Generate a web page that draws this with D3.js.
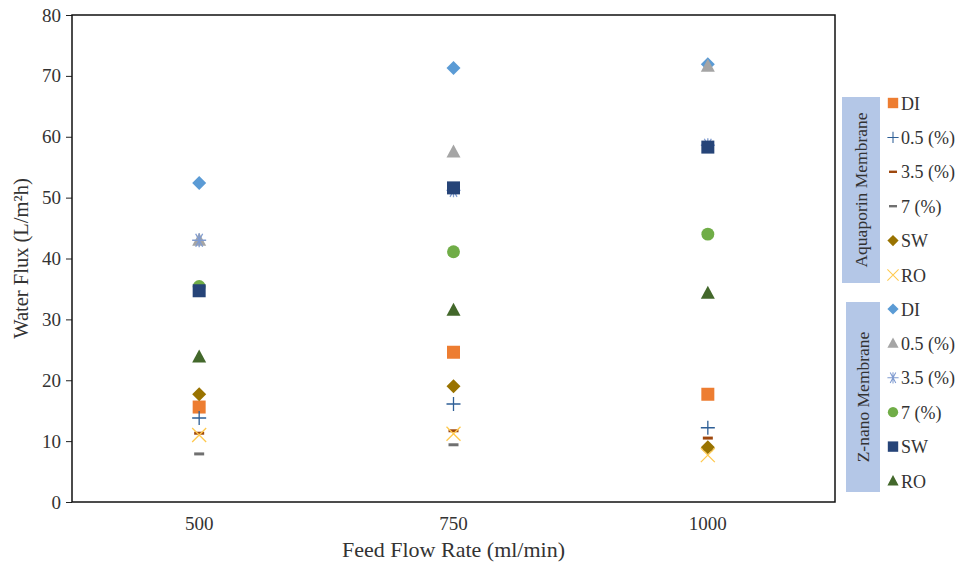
<!DOCTYPE html>
<html>
<head>
<meta charset="utf-8">
<script src="https://cdn.jsdelivr.net/npm/d3@7"></script>
<style>
body { margin: 0; background: #fff; }
text { font-family: "Liberation Serif", "Times New Roman", serif; fill: #333; }
</style>
</head>
<body>
<svg id="chart" width="962" height="568"></svg>
<script>
var flowRates = ["500", "750", "1000"];
var yTicks = [0, 10, 20, 30, 40, 50, 60, 70, 80];

// Aquaporin membrane series
var aqDI = [15.6, 24.6, 17.7];
var aq05 = [13.8, 16.1, 12.2];
var aq35 = [11.3, 11.7, 10.5];
var aq7 = [7.9, 9.4, 8.6];
var aqSW = [17.7, 19.0, 9.0];
var aqRO = [11.0, 11.2, 7.7];

// Z-nano membrane series
var znDI = [52.4, 71.3, 71.9];
var zn05 = [43.0, 57.5, 71.6];
var zn35 = [43.0, 51.2, 58.6];
var zn7 = [35.4, 41.1, 44.0];
var znSW = [34.7, 51.6, 58.3];
var znRO = [23.8, 31.5, 34.3];

var aqSeries = [
  {name: "DI", values: aqDI, shape: "square", color: "#ED7D31"},
  {name: "0.5 (%)", values: aq05, shape: "plus", color: "#2E5F96"},
  {name: "3.5 (%)", values: aq35, shape: "dash", color: "#9E480E"},
  {name: "7 (%)", values: aq7, shape: "dash", color: "#707070"},
  {name: "SW", values: aqSW, shape: "diamond", color: "#997300"},
  {name: "RO", values: aqRO, shape: "x", color: "#FFC94D"}
];
var znSeries = [
  {name: "DI", values: znDI, shape: "diamond", color: "#5B9BD5"},
  {name: "0.5 (%)", values: zn05, shape: "triangle", color: "#A5A5A5"},
  {name: "3.5 (%)", values: zn35, shape: "star", color: "#7F9BD0"},
  {name: "7 (%)", values: zn7, shape: "circle", color: "#70AD47"},
  {name: "SW", values: znSW, shape: "square", color: "#264478"},
  {name: "RO", values: znRO, shape: "triangle", color: "#43682B"}
];

var margin = {left: 72, top: 15, right: 127, bottom: 66};
var width = 962 - margin.left - margin.right;
var height = 568 - margin.top - margin.bottom;

var svg = d3.select("#chart");
var g = svg.append("g").attr("transform", "translate(" + margin.left + "," + margin.top + ")");

var x = d3.scaleBand().domain(flowRates).range([0, width]);
var y = d3.scaleLinear().domain([0, 80]).range([height, 0]);

function markerPath(shape) {
  if (shape == "square") return "M-6.5,-6.5H6.5V6.5H-6.5Z";
  if (shape == "diamond") return "M0,-7L7,0L0,7L-7,0Z";
  if (shape == "triangle") return "M0,-7.5L7,5.5L-7,5.5Z";
  if (shape == "circle") return d3.symbol(d3.symbolCircle, 130)();
  if (shape == "plus") return "M-7,0L7,0M0,-7L0,7";
  if (shape == "x") return "M-7,-7L7,7M-7,7L7,-7";
  if (shape == "dash") return "M-5,0L5,0";
  if (shape == "star") return "M-7,0L7,0M-3.5,-6.5L3.5,6.5M-3.5,6.5L3.5,-6.5M0,-7L0,7";
}

function drawMarker(sel, s) {
  var filled = ["square", "diamond", "triangle", "circle"].indexOf(s.shape) >= 0;
  sel.attr("d", markerPath(s.shape))
    .attr("fill", filled ? s.color : "none")
    .attr("stroke", filled ? "none" : s.color)
    .attr("stroke-width", s.shape == "dash" ? 3 : 1.3);
}

// axes
var yAxis = d3.axisLeft(y).tickValues(yTicks).tickSize(6).tickPadding(5);
var yg = g.append("g").call(yAxis).attr("font-family", null).attr("font-size", null);
yg.select(".domain").remove();
yg.selectAll("line").attr("stroke", "#222");
yg.selectAll("text").attr("font-size", 19).attr("fill", "#333");

var xAxis = d3.axisBottom(x).tickSize(0).tickPadding(15);
var xg = g.append("g").attr("transform", "translate(0," + height + ")").call(xAxis)
  .attr("font-family", null).attr("font-size", null);
xg.select(".domain").remove();
xg.selectAll("text").attr("font-size", 19).attr("fill", "#333");

g.append("rect").attr("width", width).attr("height", height)
  .attr("fill", "none").attr("stroke", "#111").attr("stroke-width", 1.5);

// points
aqSeries.concat(znSeries).forEach(function(s) {
  g.append("g").selectAll("path")
    .data(s.values)
    .enter().append("path")
    .attr("transform", function(d, i) {
      return "translate(" + (x(flowRates[i]) + x.bandwidth() / 2) + "," + y(d) + ")";
    })
    .each(function() { drawMarker(d3.select(this), s); });
});

// axis titles
svg.append("text")
  .attr("x", margin.left + width / 2).attr("y", 557)
  .attr("text-anchor", "middle").attr("font-size", 22)
  .text("Feed Flow Rate (ml/min)");
svg.append("text")
  .attr("transform", "translate(28," + (margin.top + height / 2) + ") rotate(-90)")
  .attr("text-anchor", "middle").attr("font-size", 20.5)
  .text("Water Flux (L/m\u00B2h)");

// legends
function drawLegend(title, series, bx, by, bw, bh, rowY0) {
  var lg = svg.append("g");
  lg.append("rect").attr("x", bx).attr("y", by).attr("width", bw).attr("height", bh)
    .attr("fill", "#B4C7E7");
  lg.append("text")
    .attr("transform", "translate(" + (bx + bw / 2 + 6) + "," + (by + bh / 2) + ") rotate(-90)")
    .attr("text-anchor", "middle").attr("font-size", 17.5)
    .text(title);
  series.forEach(function(s, i) {
    var ry = rowY0 + i * 34.4;
    lg.append("path").attr("transform", "translate(893," + ry + ") scale(0.8)")
      .each(function() { drawMarker(d3.select(this), s); });
    lg.append("text").attr("x", 901).attr("y", ry + 6.5)
      .attr("font-size", 18).text(s.name);
  });
}
drawLegend("Aquaporin Membrane", aqSeries, 842, 97, 38, 186, 103);
drawLegend("Z-nano Membrane", znSeries, 846, 302, 34, 190, 309);
</script>
</body>
</html>
